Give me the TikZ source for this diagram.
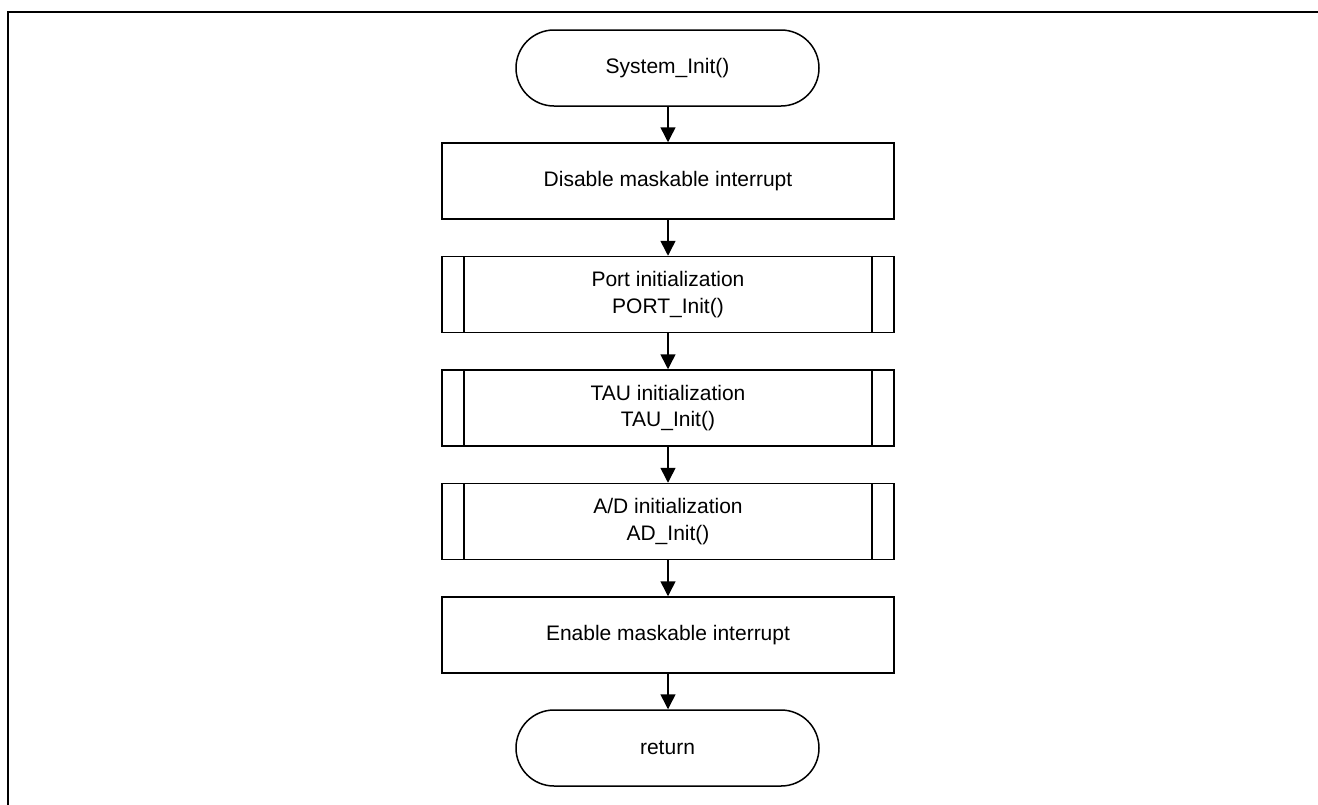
\documentclass[tikz,border=0pt]{standalone}
\usepackage{fontspec}
\setmainfont{Liberation Sans}
\usetikzlibrary{arrows.meta}

\tikzset{
  every node/.style={font=\fontsize{21}{26.5}\selectfont, align=center, text=black},
  terminal/.style={draw, line width=1.5pt, rounded corners=38pt,
    minimum width=303pt, minimum height=76pt, inner sep=0pt},
  process/.style={draw, line width=1.5pt,
    minimum width=452pt, minimum height=76pt, inner sep=0pt},
  subprocess/.style={process,
    path picture={
      \draw[line width=1.5pt]
        ([xshift=22pt]path picture bounding box.north west) --
        ([xshift=22pt]path picture bounding box.south west);
      \draw[line width=1.5pt]
        ([xshift=-22pt]path picture bounding box.north east) --
        ([xshift=-22pt]path picture bounding box.south east);
    }},
  flow/.style={line width=1.5pt, -{Triangle[length=15pt,width=15pt]}},
}

\begin{document}
\begin{tikzpicture}[x=1pt, y=-1pt]
  \useasboundingbox (0,0) rectangle (1318,804);
  % outer frame (open to the right and bottom)
  \begin{scope}
    \clip (0,0) rectangle (1318,804);
    \draw[line width=1.6pt] (8,820) -- (8,12) -- (1330,12);
  \end{scope}

  \node[terminal]   (start) at (667.5,68)  {System\_Init()};
  \node[process]    (dis)   at (668,181)   {Disable maskable interrupt};
  \node[subprocess] (port)  at (668,294.5) {Port initialization\\PORT\_Init()};
  \node[subprocess] (tau)   at (668,408)   {TAU initialization\\TAU\_Init()};
  \node[subprocess] (ad)    at (668,521.5) {A/D initialization\\AD\_Init()};
  \node[process]    (en)    at (668,635)   {Enable maskable interrupt};
  \node[terminal]   (ret)   at (667.5,748) {return};

  \draw[flow] (start.south -| dis.north) -- (dis.north);
  \draw[flow] (dis)  -- (port);
  \draw[flow] (port) -- (tau);
  \draw[flow] (tau)  -- (ad);
  \draw[flow] (ad)   -- (en);
  \draw[flow] (en.south) -- (en.south |- ret.north);
\end{tikzpicture}
\end{document}
